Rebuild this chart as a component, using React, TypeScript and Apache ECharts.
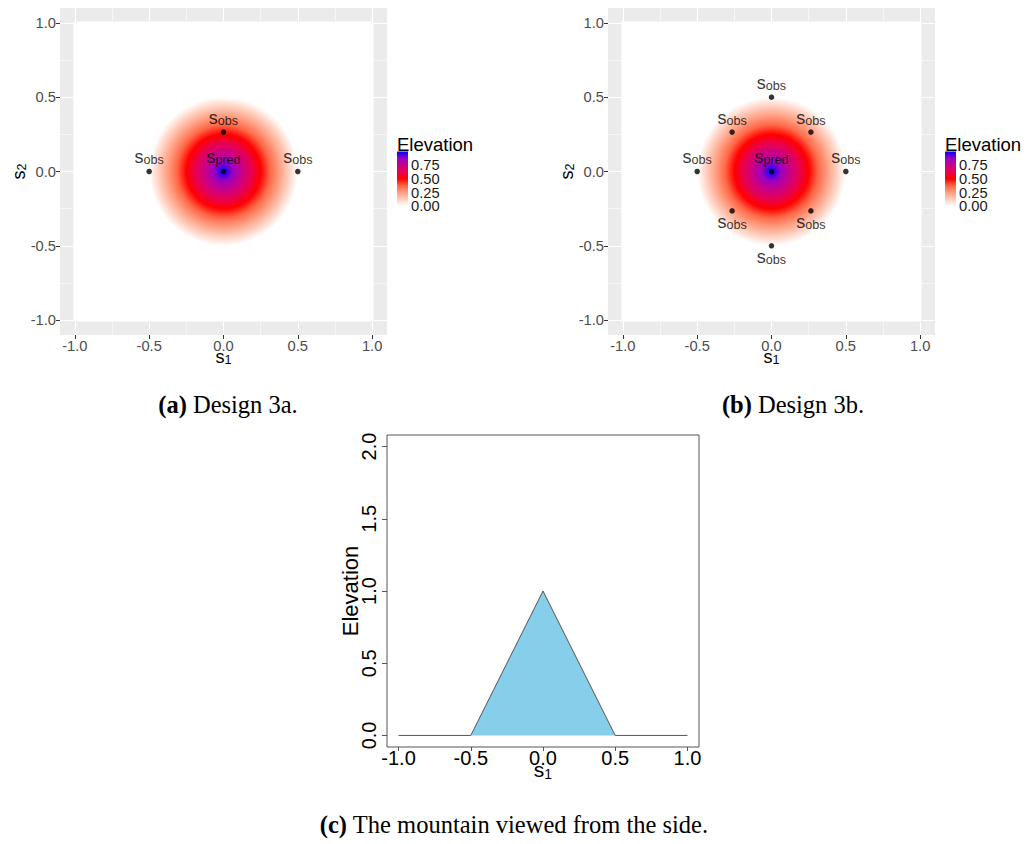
import React, { useEffect, useRef } from "react";
import * as echarts from "echarts";

// ---------- data ----------
const axisBreaks = [-1, -0.5, 0, 0.5, 1];
const minorBreaks = [-0.75, -0.25, 0.25, 0.75];
const elevationBreaks = [0, 0.5, 1, 1.5, 2];
const legendBreaks = [0, 0.25, 0.5, 0.75];
const legendRange = [0, 1];
const colorStopValues = [0, 0.125, 0.25, 0.375, 0.5, 0.625, 0.75, 0.875, 1];
const colorStopColors = ["#FFFFFF", "#FFCFBF", "#FF9E81", "#FF6746", "#FF0000", "#E80050", "#C90089", "#9A00C2", "#0000FF"];
const rasterExtent = [-1.01, 1.01];
const mountainCenter = [0, 0];
const mountainRadius = [0.5];
const mountainPeak = [1];
const predLocations = [[0, 0]];
const designAObs = [[0, 0.265], [-0.5, 0], [0.5, 0]];
const designBObs = [
  [0, 0.5], [0.265, 0.265], [0.5, 0], [0.265, -0.265],
  [0, -0.5], [-0.265, -0.265], [-0.5, 0], [-0.265, 0.265],
];
const profileS1 = [-1, -0.5, 0, 0.5, 1];
const profileElevation = [0, 0, 1, 0, 0];
const captions = ["Design 3a.", "Design 3b.", "The mountain viewed from the side."];
const captionTags = ["(a)", "(b)", "(c)"];

// ---------- helpers ----------
const SANS = "'Liberation Sans', Arial, sans-serif";
const SERIF = "'Liberation Serif', 'Times New Roman', serif";

const radialStops = (peak: number) =>
  colorStopValues
    .map((v, i) => ({ offset: 1 - v / peak, color: colorStopColors[i] }))
    .reverse();

const barStops = colorStopValues
  .map((v, i) => ({
    offset: (legendRange[1] - v) / (legendRange[1] - legendRange[0]),
    color: colorStopColors[i],
  }))
  .reverse();

const renderRaster = (_params: any, api: any) => {
  const p1 = api.coord([rasterExtent[0], rasterExtent[1]]);
  const p2 = api.coord([rasterExtent[1], rasterExtent[0]]);
  const c = api.coord([api.value(0), api.value(1)]);
  const sz = api.size([api.value(2), api.value(2)]);
  const r = (sz[0] + sz[1]) / 2;
  return {
    type: "group",
    children: [
      {
        type: "rect",
        shape: { x: p1[0], y: p1[1], width: p2[0] - p1[0], height: p2[1] - p1[1] },
        style: { fill: "#FFFFFF" },
      },
      {
        type: "circle",
        shape: { cx: c[0], cy: c[1], r },
        style: {
          fill: { type: "radial", x: 0.5, y: 0.5, r: 0.5, colorStops: radialStops(api.value(3)) },
        },
      },
    ],
  };
};

const renderBar = (_params: any, api: any) => {
  const p1 = api.coord([0, legendRange[1]]);
  const p2 = api.coord([1, legendRange[0]]);
  return {
    type: "rect",
    shape: { x: p1[0], y: p1[1], width: p2[0] - p1[0], height: p2[1] - p1[1] },
    style: { fill: { type: "linear", x: 0, y: 0, x2: 0, y2: 1, colorStops: barStops } },
  };
};

const renderBarLabel = (_params: any, api: any) => {
  const p = api.coord([api.value(0), api.value(1)]);
  return {
    type: "text",
    x: p[0] + 3,
    y: p[1],
    style: {
      text: Number(api.value(1)).toFixed(2),
      fill: "#1A1A1A",
      fontSize: 14.7,
      fontFamily: SANS,
      align: "left",
      verticalAlign: "middle",
    },
  };
};

// main letter sits in the upper part of the line (bottom padding), subscript hangs at the bottom
const subRich = (main: number, sub: number, lh: number, pad: number) => ({
  s: { fontSize: main, lineHeight: lh, padding: [0, 0, pad, 0], color: "#000", fontFamily: SANS },
  sub: { fontSize: sub, lineHeight: sub, verticalAlign: "bottom", color: "#000", fontFamily: SANS },
});

const ggAxis = (gridIndex: number, name: string, nameGap: number) => ({
  type: "value",
  gridIndex,
  min: -1.1,
  max: 1.1,
  name: `{s|s}{sub|${name}}`,
  nameLocation: "middle",
  nameGap,
  nameMoveOverlap: false,
  nameTextStyle: { rich: subRich(18, 12.6, 14, 5) },
  axisLine: { show: false, onZero: false },
  axisTick: { show: true, length: 4, lineStyle: { color: "#333333", width: 1 }, customValues: axisBreaks },
  axisLabel: {
    show: true,
    customValues: axisBreaks,
    formatter: (v: number) => v.toFixed(1),
    color: "#4D4D4D",
    fontSize: 14.7,
    lineHeight: 13,
    fontFamily: SANS,
    margin: 4,
    hideOverlap: false,
    showMinLabel: true,
    showMaxLabel: true,
  },
  splitLine: { show: false },
});

const gridLineData = [
  ...axisBreaks.map((v) => ({ xAxis: v, lineStyle: { width: 1.1 } })),
  ...axisBreaks.map((v) => ({ yAxis: v, lineStyle: { width: 1.1 } })),
  ...minorBreaks.map((v) => ({ xAxis: v, lineStyle: { width: 0.55 } })),
  ...minorBreaks.map((v) => ({ yAxis: v, lineStyle: { width: 0.55 } })),
];

const pointData = (obs: number[][]) => [
  ...obs.map((p) => ({
    value: p,
    name: "obs",
    label: p[1] < 0 ? { position: "bottom", distance: 4 } : { position: "top", distance: 2 },
  })),
  ...predLocations.map((p) => ({ value: p, name: "pred", label: { position: "top", distance: 2 } })),
];

const pointSeries = (idx: number, obs: number[][]) => ({
  type: "scatter",
  xAxisIndex: idx,
  yAxisIndex: idx,
  z: 3,
  symbol: "circle",
  symbolSize: 5.5,
  itemStyle: { color: "#000000" },
  silent: true,
  data: pointData(obs),
  label: {
    show: true,
    formatter: (p: any) => `{s|s}{sub|${p.name}}`,
    rich: subRich(18, 12.6, 14, 5),
  },
  labelLayout: { hideOverlap: false },
  markLine: {
    silent: true,
    z: 1,
    symbol: ["none", "none"],
    label: { show: false },
    lineStyle: { color: "#FFFFFF", type: "solid" },
    emphasis: { disabled: true },
    data: gridLineData,
  },
});

const rasterSeries = (idx: number) => ({
  type: "custom",
  xAxisIndex: idx,
  yAxisIndex: idx,
  z: 2,
  silent: true,
  renderItem: renderRaster,
  encode: { x: 0, y: 1 },
  data: [[mountainCenter[0], mountainCenter[1], mountainRadius[0], mountainPeak[0]]],
});

const barSeries = (idx: number) => ({
  type: "custom",
  xAxisIndex: idx,
  yAxisIndex: idx,
  silent: true,
  renderItem: renderBar,
  encode: { x: 0, y: 1 },
  data: [[0, legendRange[0]]],
});

const barLabelSeries = (idx: number) => ({
  type: "custom",
  xAxisIndex: idx,
  yAxisIndex: idx,
  silent: true,
  clip: false,
  renderItem: renderBarLabel,
  encode: { x: 0, y: 1 },
  data: legendBreaks.map((v) => [1, v]),
});

const legendYAxis = (gridIndex: number) => ({
  type: "value",
  gridIndex,
  position: "right",
  min: legendRange[0],
  max: legendRange[1],
  axisLine: { show: false, onZero: false },
  axisTick: { show: true, inside: true, length: 2.2, lineStyle: { color: "#FFFFFF" }, customValues: legendBreaks },
  axisLabel: { show: false },
  splitLine: { show: false },
});

const legendXAxis = (gridIndex: number) => ({
  type: "value",
  gridIndex,
  min: 0,
  max: 1,
  show: false,
  axisLine: { show: false, onZero: false },
});

const captionCenters = [228, 793, 514];
const captionTops = [404, 404, 824];

const option: any = {
  animation: false,
  backgroundColor: "#FFFFFF",
  textStyle: { fontFamily: SANS },
  grid: [
    { left: 60, top: 8, width: 327, height: 327, show: true, backgroundColor: "#EBEBEB", borderWidth: 0, outerBoundsMode: "none" },
    { left: 608, top: 8, width: 327, height: 327, show: true, backgroundColor: "#EBEBEB", borderWidth: 0, outerBoundsMode: "none" },
    { left: 387, top: 435, width: 312, height: 312, show: true, backgroundColor: "transparent", borderColor: "#555555", borderWidth: 1, outerBoundsMode: "none" },
    { left: 397, top: 151.5, width: 11, height: 54.7, outerBoundsMode: "none" },
    { left: 945, top: 151.5, width: 11, height: 54.7, outerBoundsMode: "none" },
  ],
  xAxis: [
    ggAxis(0, "1", 17.5),
    ggAxis(1, "1", 17.5),
    {
      type: "value",
      gridIndex: 2,
      min: -1.08,
      max: 1.08,
      name: "{s|s}{sub|1}",
      nameLocation: "middle",
      nameGap: 17.5,
      nameMoveOverlap: false,
      nameTextStyle: { rich: subRich(21, 14, 16, 6) },
      axisLine: { show: false, onZero: false },
      axisTick: { show: true, length: 4, lineStyle: { color: "#555555" }, customValues: axisBreaks },
      axisLabel: {
        customValues: axisBreaks,
        formatter: (v: number) => v.toFixed(1),
        color: "#000000",
        fontSize: 20,
        lineHeight: 13,
        fontFamily: SANS,
        margin: 4,
        hideOverlap: false,
        showMinLabel: true,
        showMaxLabel: true,
      },
      splitLine: { show: false },
    },
    legendXAxis(3),
    legendXAxis(4),
  ],
  yAxis: [
    ggAxis(0, "2", 32),
    ggAxis(1, "2", 32),
    {
      type: "value",
      gridIndex: 2,
      min: -0.08,
      max: 2.08,
      name: "Elevation",
      nameLocation: "middle",
      nameGap: 26,
      nameMoveOverlap: false,
      nameTextStyle: { fontSize: 22, color: "#000000", fontFamily: SANS },
      axisLine: { show: false, onZero: false },
      axisTick: { show: true, length: 5, lineStyle: { color: "#555555" }, customValues: elevationBreaks },
      axisLabel: {
        customValues: elevationBreaks,
        formatter: (v: number) => v.toFixed(1),
        rotate: 90,
        color: "#000000",
        fontSize: 20,
        fontFamily: SANS,
        margin: 8,
        hideOverlap: false,
        showMinLabel: true,
        showMaxLabel: true,
      },
      splitLine: { show: false },
    },
    legendYAxis(3),
    legendYAxis(4),
  ],
  series: [
    rasterSeries(0),
    rasterSeries(1),
    pointSeries(0, designAObs),
    pointSeries(1, designBObs),
    {
      type: "line",
      xAxisIndex: 2,
      yAxisIndex: 2,
      silent: true,
      symbol: "none",
      data: profileS1.map((s, i) => [s, profileElevation[i]]),
      lineStyle: { color: "#444444", width: 0.9 },
      areaStyle: { color: "#87CEEB", opacity: 1, origin: 0 },
    },
    barSeries(3),
    barSeries(4),
    barLabelSeries(3),
    barLabelSeries(4),
  ],
  graphic: [
    { type: "text", x: 397, y: 144, style: { text: "Elevation", fill: "#000", fontSize: 18.5, fontFamily: SANS, align: "left", verticalAlign: "middle" } },
    { type: "text", x: 945, y: 144, style: { text: "Elevation", fill: "#000", fontSize: 18.5, fontFamily: SANS, align: "left", verticalAlign: "middle" } },
    ...captions.map((c, i) => ({
      type: "text",
      x: captionCenters[i],
      y: captionTops[i],
      style: {
        text: `{b|${captionTags[i]}} ${c}`,
        fill: "#000",
        fontSize: 24.5,
        fontFamily: SERIF,
        align: "center",
        verticalAlign: "middle",
        rich: { b: { fontWeight: "bold", fontSize: 24.5, fontFamily: SERIF, fill: "#000" } },
      },
    })),
  ],
};

export default function App() {
  const ref = useRef<HTMLDivElement>(null);
  useEffect(() => {
    if (!ref.current) return;
    const chart = echarts.init(ref.current, null, { renderer: "svg" });
    chart.setOption(option);
    return () => chart.dispose();
  }, []);
  return (
    <div
      ref={ref}
      style={{ position: "fixed", left: 0, top: 0, width: 1029, height: 844, background: "#FFFFFF" }}
    />
  );
}
